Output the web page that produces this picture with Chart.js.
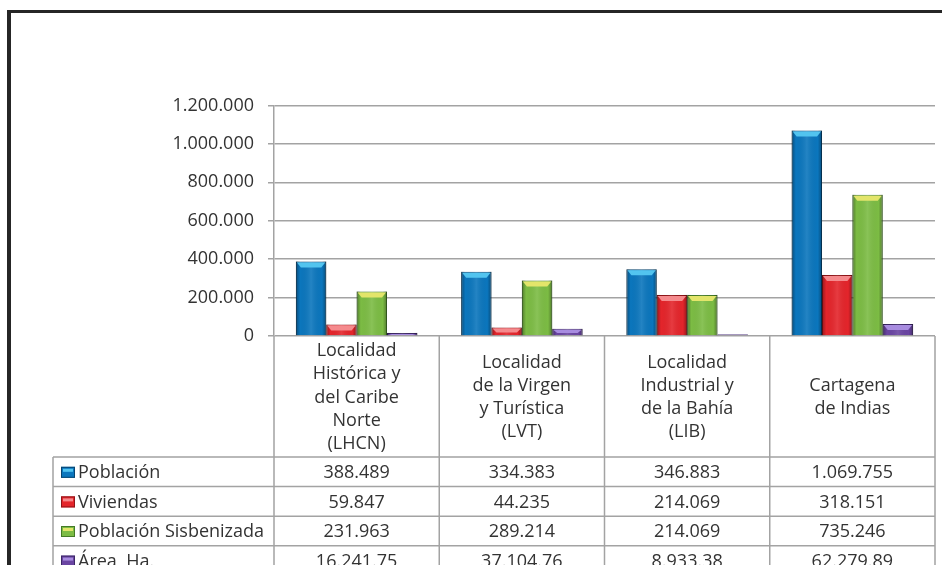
<!DOCTYPE html>
<html>
<head>
<meta charset="utf-8">
<script src="https://cdn.jsdelivr.net/npm/chart.js@4.4.1/dist/chart.umd.min.js"></script>
<style>
  body { margin: 0; background: #fff; }
  #wrap { position: relative; width: 942px; height: 565px; overflow: hidden; }
  #frame { position: absolute; left: 7px; top: 10px; right: -10px; bottom: -10px;
           border-top: 3px solid #262626; border-left: 4px solid #262626; }
  canvas { position: absolute; left: 0; top: 0; }
</style>
</head>
<body>
<div id="wrap">
  <div id="frame"></div>
  <canvas id="myChart" width="942" height="565"></canvas>
</div>
<script>
// data
const categories = [
  ['Localidad', 'Histórica y', 'del Caribe', 'Norte', '(LHCN)'],
  ['Localidad', 'de la Virgen', 'y Turística', '(LVT)'],
  ['Localidad', 'Industrial y', 'de la Bahía', '(LIB)'],
  ['Cartagena', 'de Indias']
]
const seriesNames = ['Población', 'Viviendas', 'Población Sisbenizada', 'Área  Ha.']
const poblacion = [388489, 334383, 346883, 1069755]
const viviendas = [59847, 44235, 214069, 318151]
const sisbenizada = [231963, 289214, 214069, 735246]
const areaHa = [16241.75, 37104.76, 8933.38, 62279.89]
const yTicks = [0, 200000, 400000, 600000, 800000, 1000000, 1200000]

// styles
const fills = ['#0b76bd', '#e4252b', '#7cbc44', '#6a45a2']
const edges = ['#07446f', '#8f1418', '#457a27', '#3b2765']
const caps = ['#52c4ef', '#f58a8d', '#e3e56a', '#a88ce0']
const FONT = '"Open Sans", sans-serif'
const TEXT = '#333333'
const GRID = '#a3a3a3'
const FS = 18

const dots = n => String(n).replace(/\B(?=(\d{3})+(?!\d))/g, '.')
const fmt = v => Number.isInteger(v) ? dots(v) : dots(Math.trunc(v)) + '.' + v.toFixed(2).split('.')[1]

const bevel = {
  id: 'bevel',
  afterDatasetsDraw(chart) {
    const ctx = chart.ctx
    ctx.save()
    chart.data.datasets.forEach((ds, di) => {
      chart.getDatasetMeta(di).data.forEach(bar => {
        const {x, y, base, width} = bar.getProps(['x', 'y', 'base', 'width'], true)
        const l = x - width / 2, r = x + width / 2, h = base - y
        if (h < 1) return
        const g = ctx.createLinearGradient(l, 0, r, 0)
        g.addColorStop(0, 'rgba(0,0,0,0.35)')
        g.addColorStop(0.14, 'rgba(0,0,0,0)')
        g.addColorStop(0.5, 'rgba(255,255,255,0.10)')
        g.addColorStop(0.86, 'rgba(0,0,0,0)')
        g.addColorStop(1, 'rgba(0,0,0,0.35)')
        ctx.fillStyle = g
        ctx.fillRect(l, y, width, h)
        const cap = Math.min(5, h / 2)
        ctx.fillStyle = caps[di]
        ctx.beginPath()
        ctx.moveTo(l + 1, y + 1)
        ctx.lineTo(r - 1, y + 1)
        ctx.lineTo(r - 5, y + 1 + cap)
        ctx.lineTo(l + 5, y + 1 + cap)
        ctx.closePath()
        ctx.fill()
      })
    })
    ctx.restore()
  }
}

const dataTable = {
  id: 'dataTable',
  afterDraw(chart) {
    const ctx = chart.ctx
    const xs = chart.scales.x
    const area = chart.chartArea
    const half = (xs.getPixelForValue(1) - xs.getPixelForValue(0)) / 2
    const cols = categories.map((c, i) => xs.getPixelForValue(i) - half)
    cols.push(xs.getPixelForValue(categories.length - 1) + half)
    const headTop = area.bottom
    const headBottom = headTop + 121
    const rowH = 29.6
    const labelLeft = 53
    const tableBottom = headBottom + rowH * seriesNames.length

    ctx.save()
    ctx.strokeStyle = GRID
    ctx.lineWidth = 1.5
    ctx.beginPath()
    cols.forEach(cx => { ctx.moveTo(cx, headTop); ctx.lineTo(cx, tableBottom) })
    ctx.moveTo(labelLeft, headBottom); ctx.lineTo(labelLeft, tableBottom)
    for (let i = 0; i <= seriesNames.length; i++) {
      const yy = headBottom + rowH * i
      ctx.moveTo(labelLeft, yy); ctx.lineTo(cols[cols.length - 1], yy)
    }
    ctx.stroke()

    ctx.fillStyle = TEXT
    ctx.font = FS + 'px ' + FONT
    ctx.textAlign = 'center'
    ctx.textBaseline = 'middle'
    const lh = 23.2
    categories.forEach((lines, i) => {
      const cx = xs.getPixelForValue(i)
      const mid = (headTop + headBottom) / 2 + 1
      lines.forEach((t, k) => {
        ctx.fillText(t, cx, mid + (k - (lines.length - 1) / 2) * lh)
      })
    })

    chart.data.datasets.forEach((ds, di) => {
      const cy = headBottom + rowH * di + rowH / 2 + 1
      // legend key
      const kx = 61, ky = cy - 6
      ctx.fillStyle = fills[di]
      ctx.fillRect(kx, ky, 14, 11)
      ctx.fillStyle = caps[di]
      ctx.fillRect(kx + 2, ky + 2, 10, 3)
      ctx.strokeStyle = edges[di]
      ctx.lineWidth = 1
      ctx.strokeRect(kx + 0.5, ky + 0.5, 13, 10)
      ctx.fillStyle = TEXT
      ctx.textAlign = 'left'
      ctx.fillText(ds.label, 78, cy)
      ctx.textAlign = 'center'
      ds.data.forEach((v, i) => ctx.fillText(fmt(v), xs.getPixelForValue(i), cy))
    })
    ctx.restore()
  }
}

const ctx = document.getElementById('myChart').getContext('2d')
const seriesData = [poblacion, viviendas, sisbenizada, areaHa]

const myChart = new Chart(ctx, {
  type: 'bar',
  data: {
    labels: categories,
    datasets: seriesNames.map((name, i) => ({
      label: name,
      data: seriesData[i],
      backgroundColor: fills[i],
      borderColor: edges[i],
      borderWidth: 1,
      categoryPercentage: 0.735,
      barPercentage: 1
    }))
  },
  options: {
    responsive: false,
    animation: false,
    layout: { padding: { top: 105.5, right: 7, bottom: 229, left: 0 } },
    plugins: { legend: { display: false }, tooltip: { enabled: false } },
    scales: {
      x: { display: false },
      y: {
        min: 0,
        max: 1200000,
        afterBuildTicks: axis => { axis.ticks = yTicks.map(v => ({ value: v })) },
        afterFit: axis => { axis.width = 274 },
        ticks: {
          color: TEXT,
          padding: 14,
          font: { family: FONT, size: FS },
          callback: v => dots(v)
        },
        grid: { color: GRID, lineWidth: 1.5, tickLength: 6 },
        border: { color: GRID, width: 1.5 }
      }
    }
  },
  plugins: [bevel, dataTable]
})
</script>
</body>
</html>
